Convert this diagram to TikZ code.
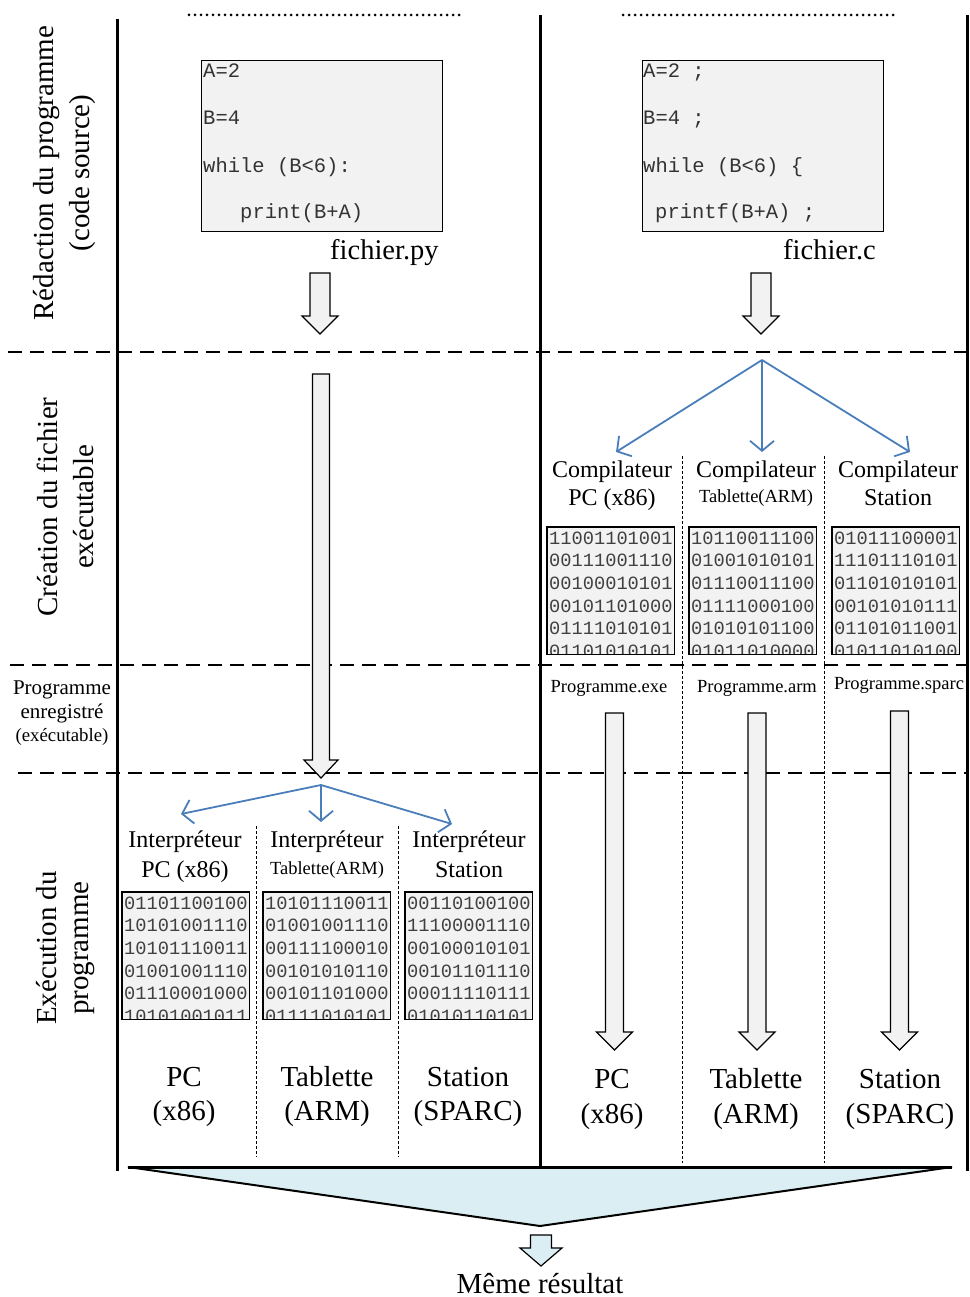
\documentclass[tikz,border=0pt]{standalone}
\usepackage{fontspec}
\setmainfont{Liberation Serif}
\setmonofont{Liberation Mono}
\usetikzlibrary{arrows.meta}
\definecolor{boxgray}{HTML}{F2F2F2}
\definecolor{arrblue}{HTML}{4A7EBB}
\definecolor{triblue}{HTML}{DAEEF3}
\newcommand{\blockarrow}[6]{% name, x, ytop, ytip, shaft half, head half
  \coordinate (#1) at (#2,#4);
  \draw[blockar] ({#2-#5},#3) -- ({#2+#5},#3) -- ({#2+#5},{#4-18}) -- ({#2+#6},{#4-18}) -- (#1) -- ({#2-#6},{#4-18}) -- ({#2-#5},{#4-18}) -- cycle;}
\newcommand{\binblock}[4]{% name, x left, y top, lines
  \node[binframe, anchor=north west] (#1) at (#2,#3) {};
  \begin{scope}
    \clip ({#2},{#3}) rectangle ({#2+127},{#3+127});
    \foreach \l [count=\i] in {#4}
      \node[bintext, anchor=base west] (#1-\i) at ({#2+2},{#3+17+(\i-1)*22.7}) {\l};
  \end{scope}
  \draw[line width=1.2pt] (#1.north west) rectangle (#1.south east);}
\begin{document}
\begin{tikzpicture}[x=1pt,y=-1pt,
  thickline/.style={line width=3pt},
  hdash/.style={line width=2pt, dash pattern=on 14pt off 8pt},
  vsep/.style={line width=0.9pt, dash pattern=on 3pt off 2pt},
  topdots/.style={line width=3pt, line cap=round, dash pattern=on 0pt off 6pt},
  blockar/.style={draw, fill=boxgray, line width=1.2pt},
  bluearr/.style={draw=arrblue, line width=1.8pt, -{Straight Barb[length=10pt,width=24pt,line width=1.8pt]}},
  codebox/.style={draw, fill=boxgray, line width=1.2pt, minimum width=241pt, minimum height=171pt, inner sep=0pt, anchor=north west},
  codetxt/.style={font=\ttfamily\fontsize{20.5}{22}\selectfont, text=black!80, inner sep=0pt, anchor=base west},
  binframe/.style={fill=boxgray, minimum width=127pt, minimum height=127pt, inner sep=0pt},
  bintext/.style={font=\ttfamily\fontsize{18.7}{20}\selectfont, text=black!75, inner sep=0pt},
  big/.style={font=\fontsize{29}{31}\selectfont, inner sep=0pt, anchor=base},
  mid/.style={font=\fontsize{24}{26}\selectfont, inner sep=0pt, anchor=base},
  small/.style={font=\fontsize{18.5}{20}\selectfont, inner sep=0pt, anchor=base},
  side/.style={font=\fontsize{29}{31}\selectfont, inner sep=0pt, rotate=90}
]
\useasboundingbox (0,0) rectangle (969,1297);

% horizontal dashed separators
\draw[hdash] (8,352) -- (967,352);
\draw[hdash] (10,665) -- (967,665);
\draw[hdash] (18,773) -- (967,773);

% top dotted lines
\draw[topdots] (189,15) -- (460,15);
\draw[topdots] (623,15) -- (893,15);

% thin vertical separators
\draw[vsep] (682,456) -- (682,1163);
\draw[vsep] (824,456) -- (824,1163);
\draw[vsep] (256,826) -- (256,1157);
\draw[vsep] (398,826) -- (398,1157);

% thick vertical lines
\draw[thickline] (117,19) -- (117,1171);
\draw[thickline] (540,15) -- (540,1167);
\draw[thickline] (967,15) -- (967,1171);

% side labels
\node[side] (r1) at (47,173) {Rédaction du programme};
\node[side] (r2) at (83,173) {(code source)};
\node[side] (c1) at (47,507) {Création du fichier};
\node[side] (c2) at (84,507) {exécutable};
\node[font=\fontsize{21}{23}\selectfont, inner sep=0pt, anchor=base] (p1) at (62,694) {Programme};
\node[font=\fontsize{21}{23}\selectfont, inner sep=0pt, anchor=base] (p2) at (62,718) {enregistré};
\node[font=\fontsize{18.8}{20}\selectfont, inner sep=0pt, anchor=base] (p3) at (62,741) {(exécutable)};
\node[side] (e1) at (47,948) {Exécution du};
\node[side] (e2) at (84,948) {programme};

% code boxes
\node[codebox] (pybox) at (201,60) {};
\node[codetxt] (py1) at (203,78) {A=2};
\node[codetxt] (py2) at (203,125) {B=4};
\node[codetxt] (py3) at (203,173) {while (B<6):};
\node[codetxt] (py4) at (240,219) {print(B+A)};
\node[font=\fontsize{28.5}{30}\selectfont, inner sep=0pt, anchor=base west] (pyname) at (330,259) {fichier.py};

\node[codebox] (cbox) at (642,60) {};
\node[codetxt] (cc1) at (643,78) {A=2 ;};
\node[codetxt] (cc2) at (643,125) {B=4 ;};
\node[codetxt] (cc3) at (643,173) {while (B<6) \{};
\node[codetxt] (cc4) at (655,219) {printf(B+A) ;};
\node[font=\fontsize{28.5}{30}\selectfont, inner sep=0pt, anchor=base west] (cname) at (783,259) {fichier.c};

% block arrows
\blockarrow{pyarr}{320}{273}{334}{10}{18}
\blockarrow{carr}{761}{273}{334}{10}{18}
\blockarrow{longpy}{321}{374}{778}{8.5}{17}
\blockarrow{exearr}{614.5}{713}{1050}{9}{18}
\blockarrow{armarr}{757}{713}{1050}{9}{18}
\blockarrow{sparcarr}{899.5}{711}{1050}{9}{18}

% blue arrows (compilation)
\coordinate (csrc) at (762,360);
\coordinate (ct1) at (616,452);
\coordinate (ct2) at (762,452);
\coordinate (ct3) at (910,452);
\draw[bluearr] (csrc) -- (ct1);
\draw[bluearr] (csrc) -- (ct2);
\draw[bluearr] (csrc) -- (ct3);

% blue arrows (interpretation)
\coordinate (isrc) at (321,785);
\coordinate (it1) at (181,814);
\coordinate (it2) at (321,822);
\coordinate (it3) at (452,824);
\draw[bluearr] (isrc) -- (it1);
\draw[bluearr] (isrc) -- (it2);
\draw[bluearr] (isrc) -- (it3);

% compilers
\node[mid] (comp1) at (612,477) {Compilateur};
\node[mid] (comp1b) at (612,505) {PC (x86)};
\node[mid] (comp2) at (756,477) {Compilateur};
\node[small] (comp2b) at (756,502.5) {Tablette(ARM)};
\node[mid] (comp3) at (898,477) {Compilateur};
\node[mid] (comp3b) at (898,505) {Station};

\binblock{cb1}{547}{527}{11001101001,00111001110,00100010101,00101101000,01111010101,01101010101}
\binblock{cb2}{689}{527}{10110011100,01001010101,01110011100,01111000100,01010101100,01011010000}
\binblock{cb3}{832}{527}{01011100001,11101110101,01101010101,00101010111,01101011001,01011010100}

\node[small] (prog1) at (609,692) {Programme.exe};
\node[small] (prog2) at (757,692) {Programme.arm};
\node[small] (prog3) at (899,689) {Programme.sparc};

% interpreters
\node[mid] (int1) at (185,847) {Interpréteur};
\node[mid] (int1b) at (185,877) {PC (x86)};
\node[mid] (int2) at (327,847) {Interpréteur};
\node[small] (int2b) at (327,874) {Tablette(ARM)};
\node[mid] (int3) at (469,847) {Interpréteur};
\node[mid] (int3b) at (469,877) {Station};

\binblock{ib1}{122}{892}{01101100100,10101001110,10101110011,01001001110,01110001000,10101001011}
\binblock{ib2}{263}{892}{10101110011,01001001110,00111100010,00101010110,00101101000,01111010101}
\binblock{ib3}{405}{892}{00110100100,11100001110,00100010101,00101101110,00011110111,01010110101}

% machines
\node[big] (m1) at (184,1086) {PC};
\node[big] (m1b) at (184,1120) {(x86)};
\node[big] (m2) at (327,1086) {Tablette};
\node[big] (m2b) at (327,1120) {(ARM)};
\node[big] (m3) at (468,1086) {Station};
\node[big] (m3b) at (468,1120) {(SPARC)};
\node[big] (m4) at (612,1088) {PC};
\node[big] (m4b) at (612,1123) {(x86)};
\node[big] (m5) at (756,1088) {Tablette};
\node[big] (m5b) at (756,1123) {(ARM)};
\node[big] (m6) at (900,1088) {Station};
\node[big] (m6b) at (900,1123) {(SPARC)};

% funnel
\coordinate (tl) at (128,1167);
\coordinate (tr) at (952,1167);
\coordinate (apex) at (540,1226);
\draw[fill=triblue, line width=2pt, line join=miter] (tl) -- (tr) -- (apex) -- cycle;
\draw[line width=3pt] (tl) -- (tr);
\coordinate (restip) at (541,1266);
\draw[fill=triblue, line width=1.2pt] (530.5,1235) -- (551.5,1235) -- (551.5,1248) -- (562,1248) -- (restip) -- (520,1248) -- (530.5,1248) -- cycle;
\node[big] (res) at (540,1293) {Même résultat};
\end{tikzpicture}
\end{document}
